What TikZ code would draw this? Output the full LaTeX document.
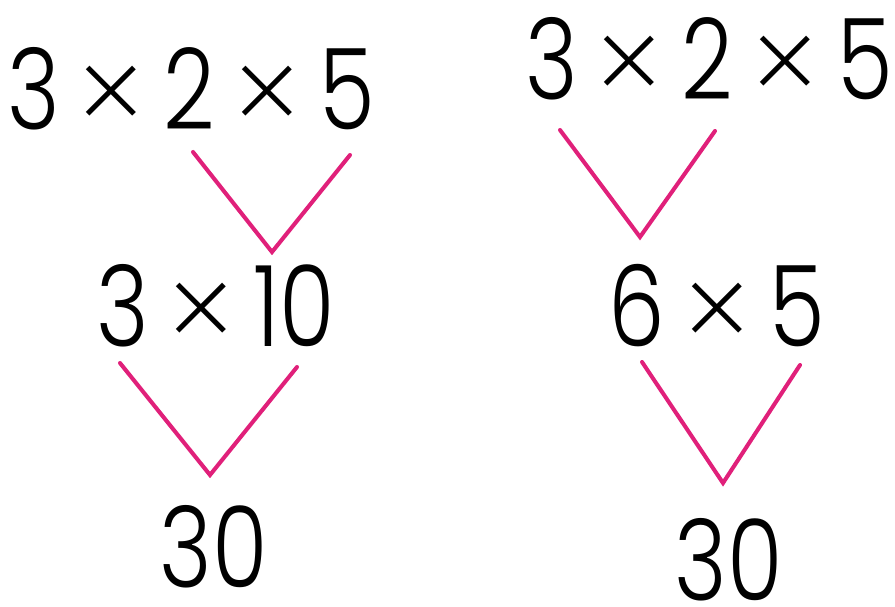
\documentclass[tikz,border=0pt]{standalone}
\usepackage{fontspec}
\setmainfont{Poppins}[UprightFont=* Light,FakeStretch=0.8]
\newfontfamily\timesfont{Poppins}[UprightFont=* ExtraLight]
\usetikzlibrary{positioning}
\newcommand{\tms}{\hspace{11pt}\raisebox{-4.5pt}{\scalebox{1.1}{\timesfont ×}}\hspace{11pt}}

\begin{document}
\begin{tikzpicture}[x=0.02cm,y=-0.02cm]
\tikzset{
  expr/.style={inner sep=0pt,anchor=base,font=\fontsize{64}{76}\selectfont},
  vline/.style={draw={rgb,255:red,224;green,32;blue,122},line width=2.3pt,line cap=round,line join=miter}
}
\useasboundingbox (0,0) rectangle (895,607);
% left: 3 x (2 x 5)
\node[expr] (l_top) at (191,130) {3\tms 2\tms 5};
\node[expr] (l_mid) at (216,347) {3\tms 10};
\node[expr] (l_bot) at (214,587) {30};
% right: (3 x 2) x 5
\node[expr] (r_top) at (709,100) {3\tms 2\tms 5};
\node[expr] (r_mid) at (717,347) {6\tms 5};
\node[expr] (r_bot) at (729,600) {30};
% ends and tips of the V brackets
\coordinate (l_a1) at (193,152);
\coordinate (l_a) at (272,252);
\coordinate (l_a2) at (350,155);
\coordinate (l_b1) at (120,363);
\coordinate (l_b) at (210,475);
\coordinate (l_b2) at (297,367);
\coordinate (r_a1) at (560,130);
\coordinate (r_a) at (640,237);
\coordinate (r_a2) at (715,131);
\coordinate (r_b1) at (642,362);
\coordinate (r_b) at (723,483);
\coordinate (r_b2) at (800,365);
\draw[vline] (l_a1) -- (l_a) -- (l_a2);
\draw[vline] (l_b1) -- (l_b) -- (l_b2);
\draw[vline] (r_a1) -- (r_a) -- (r_a2);
\draw[vline] (r_b1) -- (r_b) -- (r_b2);
\end{tikzpicture}
\end{document}
